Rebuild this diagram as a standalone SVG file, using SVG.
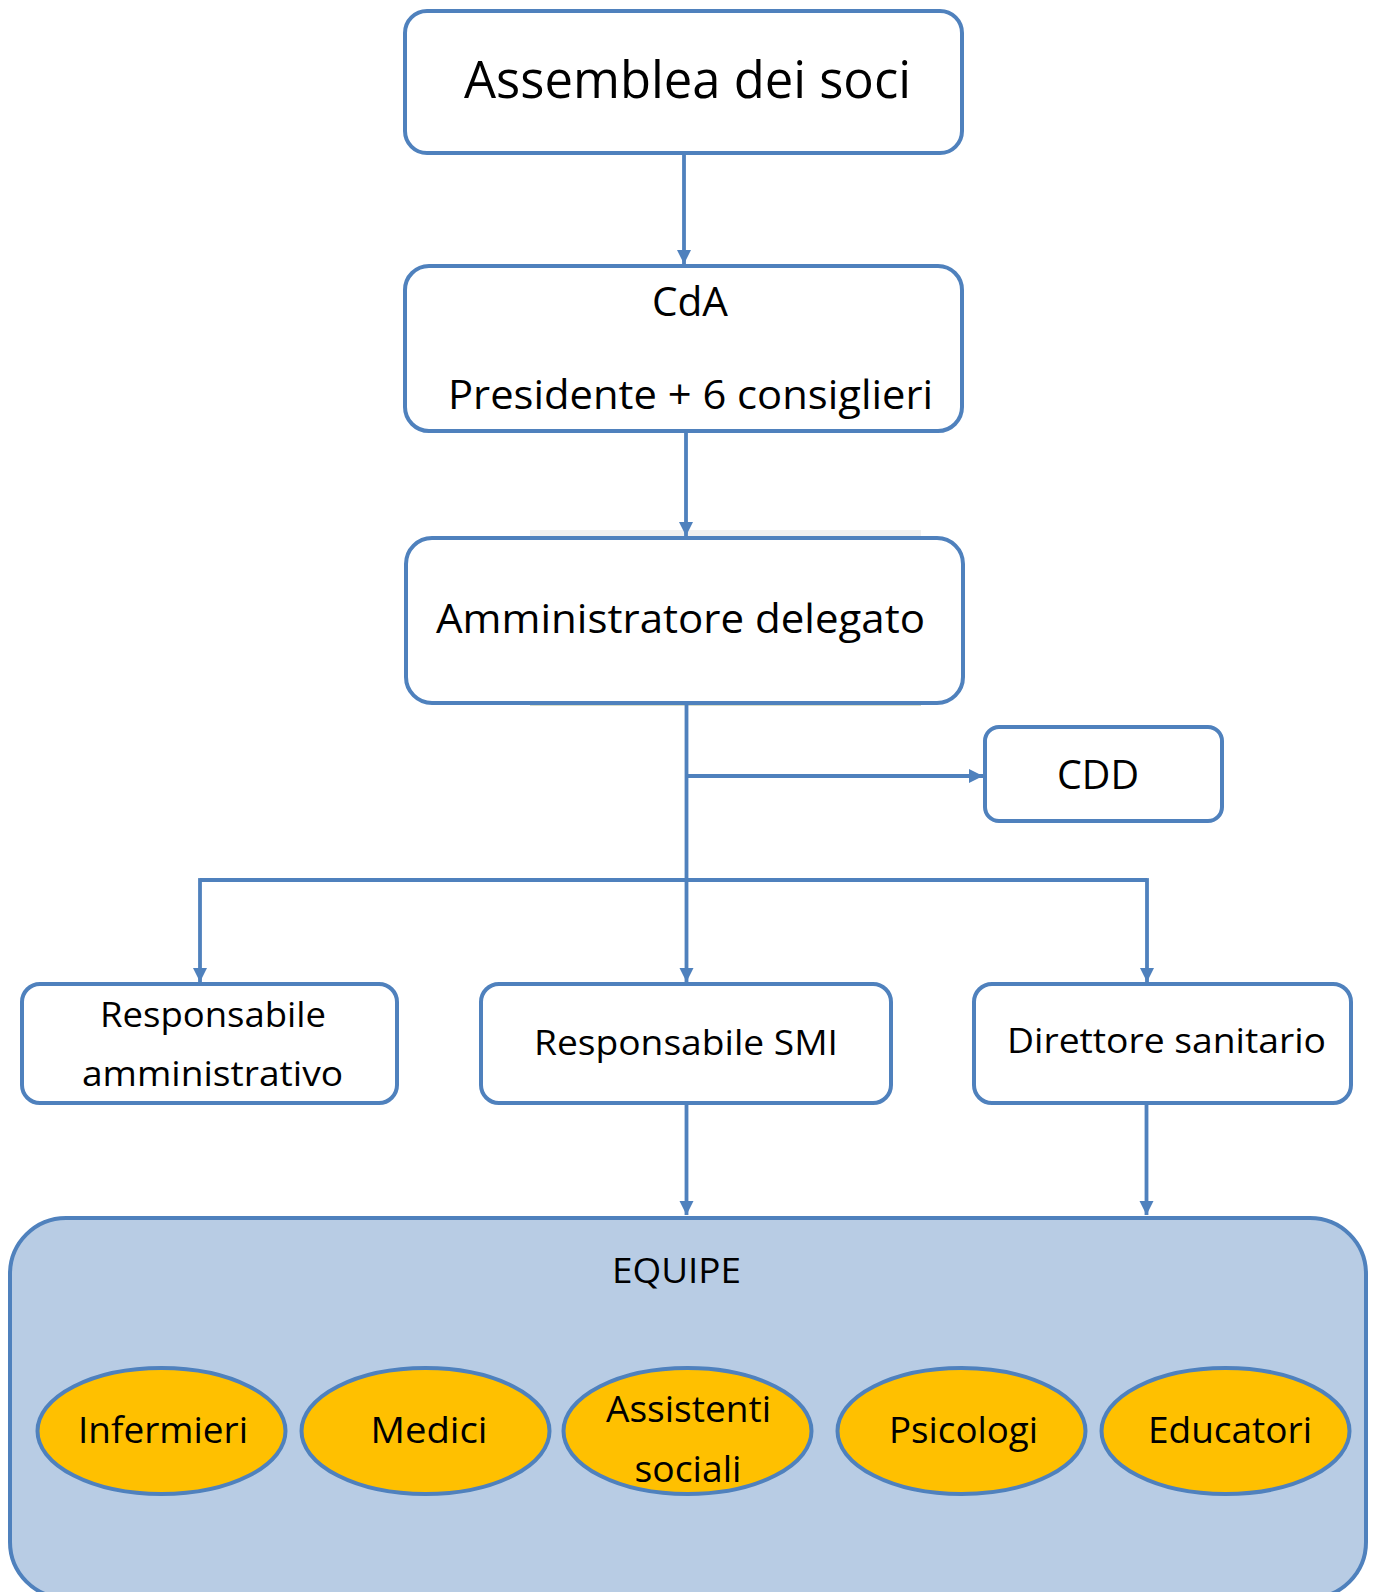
<svg xmlns="http://www.w3.org/2000/svg" width="1376" height="1592" viewBox="0 0 1376 1592">
<style>
.box{fill:#ffffff;stroke:#4f81bd;stroke-width:4}
.ell{fill:#ffc000;stroke:#4f81bd;stroke-width:4}
.con{fill:none;stroke:#4f81bd;stroke-width:3.8}
text{font-family:"Open Sans","Noto Sans",sans-serif;fill:#000;text-anchor:middle}
</style>
<defs>
<marker id="arr" markerUnits="userSpaceOnUse" markerWidth="16" markerHeight="16" refX="14" refY="7.5" orient="auto">
<path d="M0,0.5 L14,7.5 L0,14.5 z" fill="#4f81bd"/>
</marker>
</defs>
<rect x="0" y="0" width="1376" height="1592" fill="#ffffff"/>
<rect x="530" y="530" width="391" height="8" fill="#f0f0f0"/>
<rect x="530" y="703" width="391" height="3" fill="#d6dcc8"/>

<g id="connectors">
<line class="con" x1="684" y1="153" x2="684" y2="264" marker-end="url(#arr)"/>
<line class="con" x1="686" y1="431" x2="686" y2="536" marker-end="url(#arr)"/>
<line class="con" x1="686.5" y1="703" x2="686.5" y2="982" marker-end="url(#arr)"/>
<line class="con" x1="686.5" y1="776" x2="983" y2="776" marker-end="url(#arr)"/>
<polyline class="con" points="200,880 1147,880"/>
<line class="con" x1="200" y1="878.1" x2="200" y2="982" marker-end="url(#arr)"/>
<line class="con" x1="1147" y1="878.1" x2="1147" y2="982" marker-end="url(#arr)"/>
<line class="con" x1="686.5" y1="1103" x2="686.5" y2="1215" marker-end="url(#arr)"/>
<line class="con" x1="1146.5" y1="1103" x2="1146.5" y2="1215" marker-end="url(#arr)"/>
</g>

<g id="assemblea">
<rect class="box" x="405" y="11" width="557" height="142" rx="22"/>
<text x="687.5" y="98" font-size="51" textLength="447" lengthAdjust="spacingAndGlyphs">Assemblea dei soci</text>
</g>
<g id="cda">
<rect class="box" x="405" y="266" width="557" height="165" rx="24"/>
<text x="690" y="316" font-size="41" textLength="76" lengthAdjust="spacingAndGlyphs">CdA</text>
<text x="690.5" y="409" font-size="41" textLength="485" lengthAdjust="spacingAndGlyphs">Presidente + 6 consiglieri</text>
</g>
<g id="amministratore">
<rect class="box" x="406" y="538" width="557" height="165" rx="26"/>
<text x="680.5" y="633" font-size="41" textLength="489" lengthAdjust="spacingAndGlyphs">Amministratore delegato</text>
</g>
<g id="cdd">
<rect class="box" x="985" y="727" width="237" height="94" rx="14"/>
<text x="1098" y="789" font-size="40" textLength="82" lengthAdjust="spacingAndGlyphs">CDD</text>
</g>
<g id="resp-amm">
<rect class="box" x="22" y="984" width="375" height="119" rx="18"/>
<text x="213" y="1027" font-size="35" textLength="226" lengthAdjust="spacingAndGlyphs">Responsabile</text>
<text x="212.5" y="1086" font-size="35" textLength="261" lengthAdjust="spacingAndGlyphs">amministrativo</text>
</g>
<g id="resp-smi">
<rect class="box" x="481" y="984" width="410" height="119" rx="18"/>
<text x="686" y="1055" font-size="35" textLength="304" lengthAdjust="spacingAndGlyphs">Responsabile SMI</text>
</g>
<g id="direttore">
<rect class="box" x="974" y="984" width="377" height="119" rx="18"/>
<text x="1166.5" y="1053" font-size="35" textLength="319" lengthAdjust="spacingAndGlyphs">Direttore sanitario</text>
</g>
<g id="equipe">
<rect x="10" y="1218" width="1356" height="380" rx="56" fill="#b8cce4" stroke="#4f81bd" stroke-width="4"/>
<text x="676.5" y="1283" font-size="35" textLength="129" lengthAdjust="spacingAndGlyphs">EQUIPE</text>
</g>
<g id="infermieri">
<ellipse class="ell" cx="161.5" cy="1431" rx="124" ry="63"/>
<text x="163" y="1443" font-size="36" textLength="170" lengthAdjust="spacingAndGlyphs">Infermieri</text>
</g>
<g id="medici">
<ellipse class="ell" cx="425.5" cy="1431" rx="124" ry="63"/>
<text x="429" y="1443" font-size="36" textLength="117" lengthAdjust="spacingAndGlyphs">Medici</text>
</g>
<g id="assistenti">
<ellipse class="ell" cx="687.5" cy="1431" rx="124" ry="63"/>
<text x="688.5" y="1422" font-size="36" textLength="165" lengthAdjust="spacingAndGlyphs">Assistenti</text>
<text x="688" y="1482" font-size="36" textLength="107" lengthAdjust="spacingAndGlyphs">sociali</text>
</g>
<g id="psicologi">
<ellipse class="ell" cx="961.5" cy="1431" rx="124" ry="63"/>
<text x="963.5" y="1443" font-size="36" textLength="149" lengthAdjust="spacingAndGlyphs">Psicologi</text>
</g>
<g id="educatori">
<ellipse class="ell" cx="1225.5" cy="1431" rx="124" ry="63"/>
<text x="1230" y="1443" font-size="36" textLength="164" lengthAdjust="spacingAndGlyphs">Educatori</text>
</g>
</svg>
